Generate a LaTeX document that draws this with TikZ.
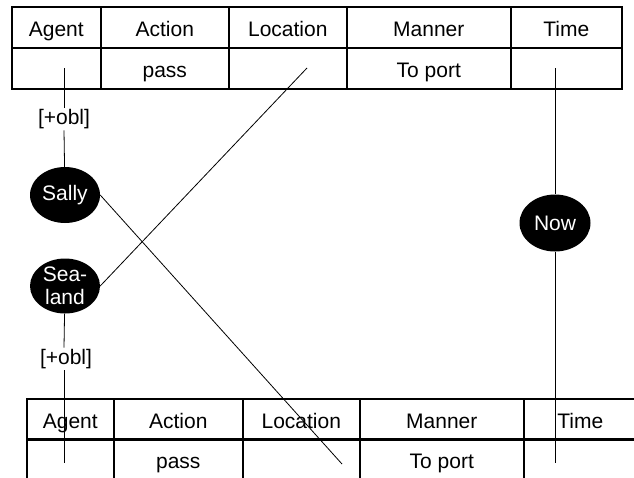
\documentclass[tikz,border=0pt]{standalone}
\usepackage{fontspec}
\setmainfont{Liberation Sans}
\usetikzlibrary{shapes.geometric}

\begin{document}
\begin{tikzpicture}[x=1pt, y=-1pt,
  txt/.style={font=\fontsize{21}{23}\selectfont},
  cell/.style={txt, draw, line width=1.6pt, minimum height=41pt,
    inner sep=0pt, text height=18pt, text depth=0pt, anchor=north west},
  role/.style={txt, ellipse, fill=black, text=white, inner sep=0pt,
    minimum width=70pt, minimum height=56pt, align=center},
  link/.style={line width=0.8pt},
  tag/.style={txt, inner sep=1.5pt}]

\useasboundingbox (0,0) rectangle (634,477);
\clip (0,0) rectangle (634,477);

% upper frame table
\foreach \n/\x/\w/\h/\d in {ag/11/89/Agent/, ac/100/128/Action/pass,
    lo/228/118/Location/, ma/346/164/Manner/To port, ti/510/111/Time/} {
  \node[cell, minimum width=\w pt] (u\n h) at (\x,6) {\h};
  \node[cell, minimum width=\w pt] (u\n d) at (\x,47) {\d};
}

% lower frame table
\foreach \n/\x/\w/\h/\d in {ag/26/87/Agent/, ac/113/129/Action/pass,
    lo/242/117/Location/, ma/359/164/Manner/To port, ti/523/113/Time/} {
  \node[cell, minimum width=\w pt] (l\n h) at (\x,398) {\h};
  \node[cell, minimum width=\w pt] (l\n d) at (\x,438) {\d};
}

% fillers
\node[role] (sally) at (65,195) {Sally};
\node[role, minimum height=55pt] (sealand) at (65,286) {Sea-\\land};
\node[role, minimum width=71pt, minimum height=57pt] (now) at (555,223) {Now};

% feature tags
\node[tag] (obl1) at (64,119) {[+obl]};
\node[tag] (obl2) at (66,359) {[+obl]};

% connector ends inside the cells
\coordinate (uagent) at (64,68);
\coordinate (uloc)   at (307,68);
\coordinate (utime)  at (555,68);
\coordinate (lagent) at (64,463);
\coordinate (lloc)   at (342,464);
\coordinate (ltime)  at (555,463);

% links
\draw[link] (uagent) -- (obl1.north -| uagent);
\draw[link] (obl1.south -| uagent) -- (sally);
\draw[link] (sealand) -- (obl2.north -| lagent);
\draw[link] (obl2.south -| lagent) -- (lagent);
\draw[link] (uloc) -- (sealand.east);
\draw[link] (sally.east) -- (lloc);
\draw[link] (utime) -- (now);
\draw[link] (now) -- (ltime);
\end{tikzpicture}
\end{document}
